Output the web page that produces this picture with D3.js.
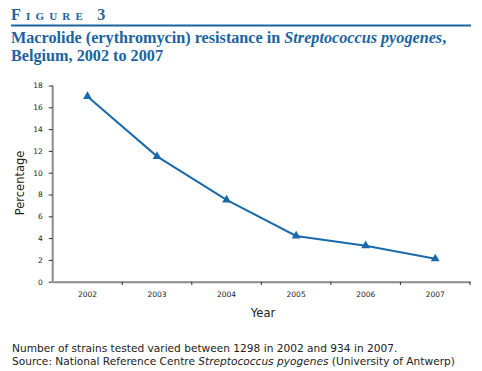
<!DOCTYPE html>
<html><head><meta charset="utf-8">
<script src="https://cdn.jsdelivr.net/npm/d3@7"></script>
<style>
body{margin:0;background:#fff;}
svg{display:block;}
</style></head>
<body>
<svg id="c" width="482" height="371"></svg>
<script>
const years = ["2002","2003","2004","2005","2006","2007"];
const resistance = [17.0, 11.5, 7.5, 4.2, 3.3, 2.1];
const yTicks = [0,2,4,6,8,10,12,14,16,18];

const svg = d3.select("#c");
const blue = "#1b64a0";
const lineBlue = "#1a6aaa";
const axisGray = "#8a8a8a";

// Header
svg.append("text").attr("x", 11).attr("y", 20)
  .attr("font-family", "Liberation Serif, serif").attr("font-size", 16)
  .attr("fill", blue).attr("font-weight", "bold")
  .style("font-variant", "small-caps").attr("letter-spacing", 5.2)
  .text("Figure 3");
svg.append("line").attr("x1", 11).attr("x2", 471).attr("y1", 25.5).attr("y2", 25.5)
  .attr("stroke", blue).attr("stroke-width", 2);
const t1 = svg.append("text").attr("x", 11).attr("y", 43)
  .attr("font-family", "Liberation Serif, serif").attr("font-size", 16.2)
  .attr("font-weight", "bold").attr("fill", blue);
t1.append("tspan").text("Macrolide (erythromycin) resistance in ");
t1.append("tspan").attr("font-style", "italic").text("Streptococcus pyogenes");
t1.append("tspan").text(",");
svg.append("text").attr("x", 11).attr("y", 61)
  .attr("font-family", "Liberation Serif, serif").attr("font-size", 16.2)
  .attr("font-weight", "bold").attr("fill", blue)
  .text("Belgium, 2002 to 2007");

// Chart
const x = d3.scaleBand().domain(years).range([52.7, 470]);
const y = d3.scaleLinear().domain([0, 18]).range([281.7, 85.5]);

const gx = svg.append("g").attr("transform", "translate(0,281.7)")
  .call(d3.axisBottom(x).tickSize(0).tickPadding(10));
gx.select(".domain").attr("stroke", axisGray).attr("stroke-width", 2);
gx.selectAll("text").attr("font-family", "DejaVu Sans, sans-serif").attr("font-size", 7.5).attr("fill", "#222");
// band boundary ticks
svg.append("g").selectAll("line").data(years.slice(1).concat(["end"]))
  .join("line")
  .attr("x1", (d,i) => i < years.length-1 ? x(d) : x.range()[1])
  .attr("x2", (d,i) => i < years.length-1 ? x(d) : x.range()[1])
  .attr("y1", 281.7).attr("y2", 285).attr("stroke", "#333").attr("stroke-width", 1);

const gy = svg.append("g").attr("transform", "translate(52.7,0)")
  .call(d3.axisLeft(y).tickValues(yTicks).tickSize(4).tickPadding(6));
gy.select(".domain").attr("stroke", axisGray).attr("stroke-width", 2).attr("d", `M0,${y(18)}V${y(0)}`);
gy.selectAll(".tick line").attr("stroke", "#333");
gy.selectAll("text").attr("font-family", "DejaVu Sans, sans-serif").attr("font-size", 7.5).attr("fill", "#222");

// Axis titles
svg.append("text").attr("transform", "translate(24,183) rotate(-90)")
  .attr("text-anchor", "middle").attr("font-family", "DejaVu Sans, sans-serif")
  .attr("font-size", 11.5).attr("fill", "#222").text("Percentage");
svg.append("text").attr("x", 263).attr("y", 317)
  .attr("text-anchor", "middle").attr("font-family", "DejaVu Sans, sans-serif")
  .attr("font-size", 11.5).attr("fill", "#222").text("Year");

// Line
const pts = years.map((yr, i) => [x(yr) + x.bandwidth()/2, y(resistance[i])]);
svg.append("path").datum(pts).attr("fill", "none").attr("stroke", lineBlue)
  .attr("stroke-width", 2).attr("d", d3.line());
svg.append("g").selectAll("path").data(pts).join("path")
  .attr("transform", d => `translate(${d[0]},${d[1]})`)
  .attr("d", d3.symbol(d3.symbolTriangle, 34)).attr("fill", lineBlue);

// Footnote
svg.append("text").attr("x", 12).attr("y", 352)
  .attr("font-family", "DejaVu Sans, sans-serif").attr("font-size", 10.6).attr("fill", "#222")
  .text("Number of strains tested varied between 1298 in 2002 and 934 in 2007.");
const f2 = svg.append("text").attr("x", 12).attr("y", 365)
  .attr("font-family", "DejaVu Sans, sans-serif").attr("font-size", 10.6).attr("fill", "#222");
f2.append("tspan").text("Source: National Reference Centre ");
f2.append("tspan").attr("font-style", "italic").text("Streptococcus pyogenes");
f2.append("tspan").text(" (University of Antwerp)");
</script>
</body></html>
